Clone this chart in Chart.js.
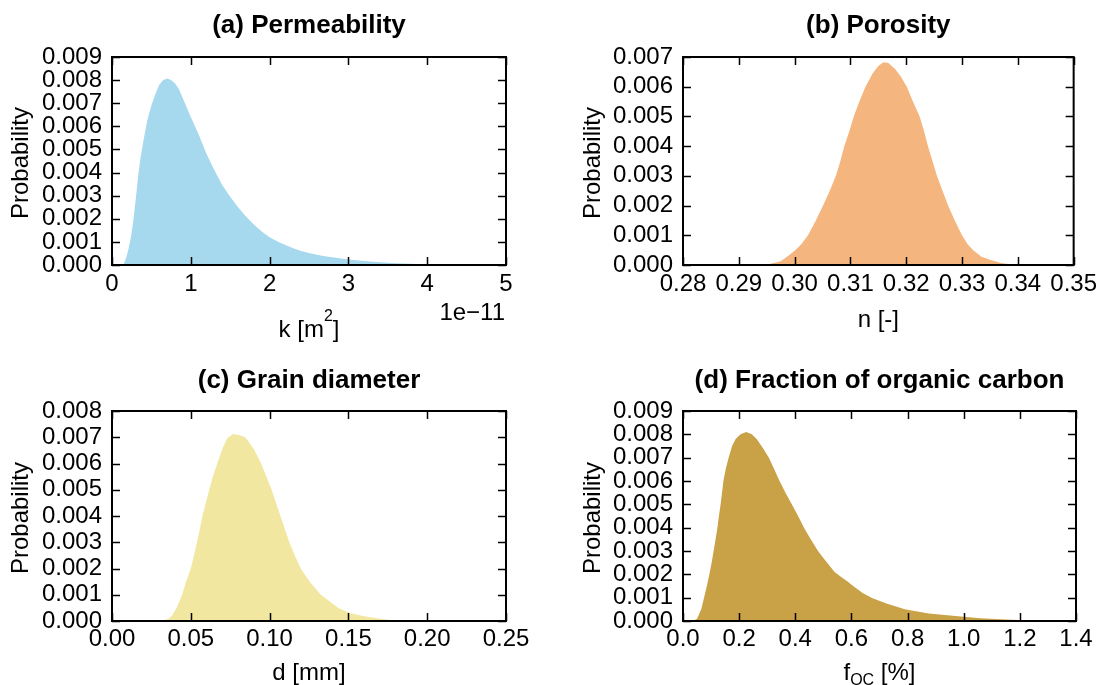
<!DOCTYPE html>
<html>
<head>
<meta charset="utf-8">
<title>Parameter distributions</title>
<script src="https://cdn.jsdelivr.net/npm/chart.js"></script>
<style>
  html, body { margin: 0; padding: 0; background: #fff; }
  #fig { position: relative; width: 1102px; height: 685px; overflow: hidden; }
  #fig canvas { position: absolute; }
</style>
</head>
<body>
<div id="fig">
  <canvas id="chartA" width="551" height="342" style="left:0px;top:0px"></canvas>
  <canvas id="chartB" width="551" height="342" style="left:551px;top:0px"></canvas>
  <canvas id="chartC" width="551" height="343" style="left:0px;top:342px"></canvas>
  <canvas id="chartD" width="551" height="343" style="left:551px;top:342px"></canvas>
</div>
<script>
// Values (probability per bin)

// (a) permeability, k in units of 1e-11 m2
const permK = [0.12, 0.15, 0.18, 0.21, 0.24, 0.27, 0.30, 0.33, 0.36, 0.40,
  0.45, 0.50, 0.55, 0.60, 0.65, 0.70, 0.75, 0.80, 0.85, 0.90,
  0.95, 1.00, 1.10, 1.20, 1.30, 1.40, 1.50, 1.60, 1.70, 1.80,
  1.90, 2.00, 2.10, 2.20, 2.30, 2.40, 2.50, 2.60, 2.70, 2.80,
  2.90, 3.00, 3.20, 3.40, 3.60, 3.80, 4.00, 4.20, 4.30];
const permP = [0, 0.00005, 0.0003, 0.0007, 0.0012, 0.0019, 0.0028, 0.0038, 0.0046, 0.0054,
  0.0063, 0.0069, 0.0074, 0.0078, 0.0080, 0.00807, 0.0080, 0.00785, 0.0076, 0.0072,
  0.0068, 0.0064, 0.00565, 0.0048, 0.0041, 0.00345, 0.00295, 0.0025, 0.0021, 0.00175,
  0.00145, 0.0012, 0.00102, 0.00086, 0.00072, 0.00061, 0.00052, 0.00044, 0.00038, 0.00033,
  0.00028, 0.00024, 0.00017, 0.00012, 0.00008, 0.00005, 0.00002, 0.000005, 0];

// (b) porosity n [-]
const poroN = [0.2940, 0.2955, 0.2975, 0.2990, 0.3000, 0.3012, 0.3024, 0.3038, 0.3051, 0.3063,
  0.3074, 0.3082, 0.3089, 0.3098, 0.3106, 0.3116, 0.3127, 0.3140, 0.3150, 0.3159,
  0.3168, 0.3180, 0.3190, 0.3201, 0.3212, 0.3224, 0.3232, 0.3239, 0.3247, 0.3255,
  0.3265, 0.3275, 0.3287, 0.3300, 0.3310, 0.3320, 0.3335, 0.3350, 0.3370, 0.3390,
  0.3400];
const poroP = [0, 0.00003, 0.00013, 0.00033, 0.00048, 0.0007, 0.0010, 0.0015, 0.0020, 0.0025,
  0.0030, 0.0035, 0.0040, 0.0045, 0.0050, 0.0055, 0.0060, 0.00645, 0.0067, 0.00682,
  0.0068, 0.0066, 0.00635, 0.0060, 0.0055, 0.0050, 0.0045, 0.0040, 0.0035, 0.0030,
  0.0025, 0.0020, 0.0015, 0.0010, 0.0007, 0.0005, 0.00028, 0.00018, 0.00007, 0.00002,
  0];

// (c) grain diameter d [mm]
const grainD = [0.032, 0.036, 0.038, 0.041, 0.0445, 0.047, 0.050, 0.052, 0.0539, 0.0557,
  0.0574, 0.0595, 0.0617, 0.064, 0.0668, 0.070, 0.073, 0.0768, 0.080, 0.0846,
  0.090, 0.0946, 0.098, 0.1013, 0.1041, 0.1069, 0.1097, 0.1125, 0.1160, 0.1198,
  0.1255, 0.1325, 0.1436, 0.1514, 0.160, 0.169, 0.177, 0.185];
const grainP = [0, 0.0001, 0.0002, 0.0005, 0.0010, 0.0015, 0.0020, 0.0025, 0.0030, 0.0035,
  0.0040, 0.0045, 0.0050, 0.0055, 0.0060, 0.00655, 0.00695, 0.00712, 0.0071, 0.0070,
  0.00655, 0.0060, 0.0055, 0.0050, 0.0045, 0.0040, 0.0035, 0.0030, 0.0025, 0.0020,
  0.0015, 0.0010, 0.0005, 0.0003, 0.00018, 0.0001, 0.00004, 0];

// (d) fraction of organic carbon f_OC [%]
const focX = [0.037, 0.050, 0.065, 0.075, 0.085, 0.094, 0.102, 0.109, 0.116, 0.1225,
  0.128, 0.134, 0.139, 0.144, 0.152, 0.1625, 0.175, 0.1875, 0.205, 0.225,
  0.245, 0.2625, 0.285, 0.306, 0.325, 0.344, 0.365, 0.3875, 0.410, 0.431,
  0.455, 0.481, 0.500, 0.520, 0.540, 0.5625, 0.585, 0.606, 0.640, 0.675,
  0.725, 0.790, 0.875, 0.980, 1.060, 1.150, 1.200, 1.250, 1.280];
const focP = [0, 0.0001, 0.0005, 0.0010, 0.0015, 0.0020, 0.0025, 0.0030, 0.0035, 0.0040,
  0.0045, 0.0050, 0.0055, 0.0060, 0.0065, 0.0070, 0.0075, 0.0078, 0.0080, 0.0081,
  0.0080, 0.0078, 0.0074, 0.0070, 0.0065, 0.0060, 0.0055, 0.0050, 0.0045, 0.0040,
  0.0035, 0.0030, 0.0027, 0.0024, 0.0021, 0.0019, 0.0017, 0.0015, 0.0012, 0.00098,
  0.00075, 0.0005, 0.00032, 0.0002, 0.00012, 0.00006, 0.00004, 0.00001, 0];

const FONT = '"Liberation Sans", Arial, Helvetica, sans-serif';
const FS = 24;

// frame, inward ticks, titles and axis labels (matplotlib look)
const decorPlugin = {
  id: 'decor',
  afterDraw(chart, args, o) {
    const { ctx, chartArea: a } = chart;
    const sx = chart.scales.x, sy = chart.scales.y;
    ctx.save();
    ctx.strokeStyle = '#000';
    ctx.lineWidth = 1.5;
    ctx.beginPath();
    sx.ticks.forEach(t => {
      const px = Math.round(sx.getPixelForValue(t.value)) + 0.5;
      ctx.moveTo(px, a.bottom); ctx.lineTo(px, a.bottom - 8);
      ctx.moveTo(px, a.top); ctx.lineTo(px, a.top + 8);
    });
    sy.ticks.forEach(t => {
      const py = Math.round(sy.getPixelForValue(t.value)) + 0.5;
      ctx.moveTo(a.left, py); ctx.lineTo(a.left + 8, py);
      ctx.moveTo(a.right, py); ctx.lineTo(a.right - 8, py);
    });
    ctx.stroke();
    ctx.lineWidth = 2;
    ctx.strokeRect(a.left, a.top, a.right - a.left, a.bottom - a.top);

    const cx = (a.left + a.right) / 2;
    ctx.fillStyle = '#000';
    ctx.textBaseline = 'alphabetic';

    // title
    ctx.font = 'bold 26px ' + FONT;
    ctx.textAlign = 'center';
    ctx.fillText(o.title, cx, o.titleY);

    // x label built from pieces (for super/subscripts)
    ctx.textAlign = 'left';
    let total = 0;
    o.xLabel.forEach(p => {
      ctx.font = (p.size || FS) + 'px ' + FONT;
      p.w = ctx.measureText(p.t).width;
      total += p.w;
    });
    let x = cx - total / 2;
    o.xLabel.forEach(p => {
      ctx.font = (p.size || FS) + 'px ' + FONT;
      ctx.fillText(p.t, x, o.xLabelY + (p.dy || 0));
      x += p.w;
    });

    // offset text
    if (o.offsetText) {
      ctx.font = FS + 'px ' + FONT;
      ctx.textAlign = 'right';
      ctx.fillText(o.offsetText, a.right - 1, o.offsetY);
    }

    // y label
    ctx.translate(o.yLabelX, (a.top + a.bottom) / 2 + 2);
    ctx.rotate(-Math.PI / 2);
    ctx.font = FS + 'px ' + FONT;
    ctx.textAlign = 'center';
    ctx.textBaseline = 'middle';
    ctx.fillText('Probability', 0, 0);
    ctx.restore();
  }
};

function makePanel(id, xs, ys, color, area, xAxis, yMax, decor) {
  const canvas = document.getElementById(id);
  const W = canvas.width, H = canvas.height;
  const points = xs.map((v, i) => ({ x: v, y: ys[i] }));
  return new Chart(canvas, {
    type: 'line',
    data: {
      datasets: [{
        data: points,
        fill: 'origin',
        backgroundColor: color,
        borderWidth: 0,
        pointRadius: 0,
        tension: 0
      }]
    },
    options: {
      responsive: false,
      animation: false,
      events: [],
      layout: { padding: { left: 0, top: area.t, right: W - area.r, bottom: 0 } },
      scales: {
        x: {
          type: 'linear',
          min: xAxis.min, max: xAxis.max,
          grid: { display: false, drawTicks: false },
          border: { display: false },
          afterFit: s => { s.height = H - area.b; },
          ticks: {
            stepSize: xAxis.step,
            autoSkip: false,
            maxRotation: 0,
            padding: xAxis.pad,
            color: '#000',
            font: { family: FONT, size: FS },
            callback: v => v.toFixed(xAxis.dec)
          }
        },
        y: {
          type: 'linear',
          min: 0, max: yMax,
          grid: { display: false, drawTicks: false },
          border: { display: false },
          afterFit: s => { s.width = area.l; },
          ticks: {
            stepSize: 0.001,
            autoSkip: false,
            padding: 10,
            color: '#000',
            font: { family: FONT, size: FS },
            callback: v => v.toFixed(3)
          }
        }
      },
      plugins: {
        legend: { display: false },
        tooltip: { enabled: false },
        decor
      }
    },
    plugins: [decorPlugin]
  });
}

// chart areas in each canvas' own coordinates
makePanel('chartA', permK, permP, 'rgb(166,217,237)',
  { l: 112, t: 57, r: 506, b: 265 },
  { min: 0, max: 5, step: 1, dec: 0, pad: 5 }, 0.009,
  { title: '(a) Permeability', titleY: 33, yLabelX: 21,
    xLabel: [{ t: 'k [m' }, { t: '2', size: 16, dy: -16 }, { t: ']' }], xLabelY: 337,
    offsetText: '1e\u221211', offsetY: 320 });

makePanel('chartB', poroN, poroP, 'rgb(244,181,126)',
  { l: 132, t: 57, r: 525, b: 265 },
  { min: 0.28, max: 0.35, step: 0.01, dec: 2, pad: 5 }, 0.007,
  { title: '(b) Porosity', titleY: 33, yLabelX: 42,
    xLabel: [{ t: 'n [-]' }], xLabelY: 327 });

makePanel('chartC', grainD, grainP, 'rgb(241,231,160)',
  { l: 112, t: 69, r: 506, b: 279 },
  { min: 0, max: 0.25, step: 0.05, dec: 2, pad: 4 }, 0.008,
  { title: '(c) Grain diameter', titleY: 46, yLabelX: 21,
    xLabel: [{ t: 'd [mm]' }], xLabelY: 338 });

makePanel('chartD', focX, focP, 'rgb(201,161,70)',
  { l: 132, t: 69, r: 525, b: 279 },
  { min: 0, max: 1.4, step: 0.2, dec: 1, pad: 4 }, 0.009,
  { title: '(d) Fraction of organic carbon', titleY: 46, yLabelX: 42,
    xLabel: [{ t: 'f' }, { t: 'OC', size: 16, dy: 5 }, { t: ' [%]' }], xLabelY: 338 });
</script>
</body>
</html>
